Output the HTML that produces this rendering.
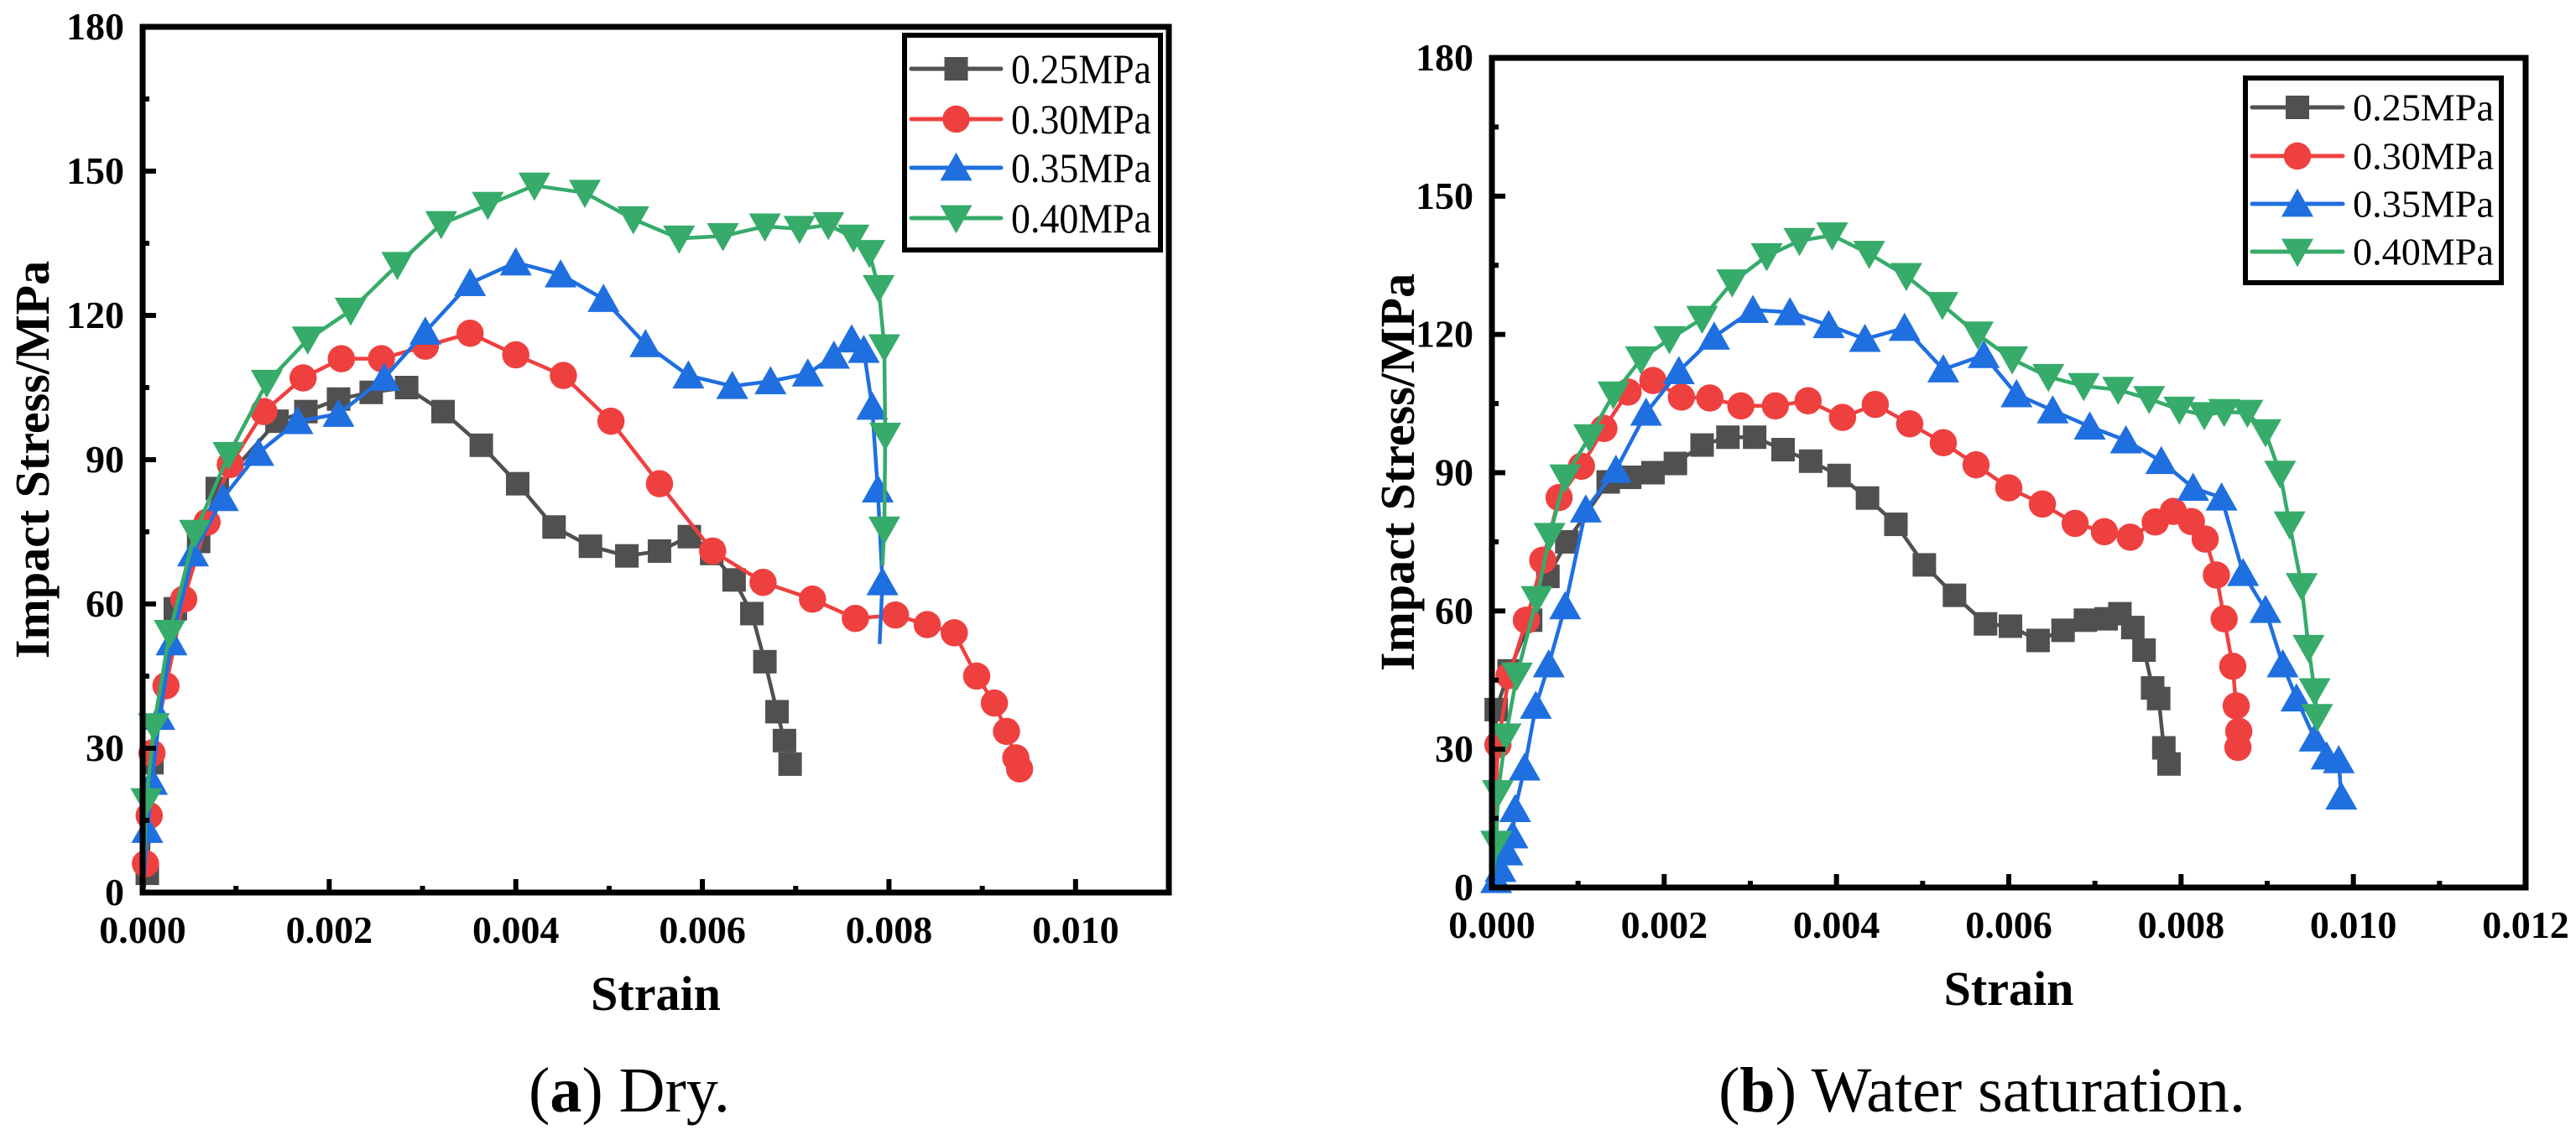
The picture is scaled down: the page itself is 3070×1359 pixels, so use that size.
<!DOCTYPE html>
<html><head><meta charset="utf-8"><style>
html,body{margin:0;padding:0;background:#fff;}
svg{display:block;}
text{font-family:"Liberation Serif","Times New Roman",serif;}
</style></head><body>
<svg id="fig" width="3070" height="1359" viewBox="0 0 3070 1359" xmlns="http://www.w3.org/2000/svg"></svg>
<script>
const seriesNames = ["0.25MPa","0.30MPa","0.35MPa","0.40MPa"];
const yTickLabels = ["0","30","60","90","120","150","180"];
const xTickLabelsA = ["0.000","0.002","0.004","0.006","0.008","0.010"];
const xTickLabelsB = ["0.000","0.002","0.004","0.006","0.008","0.010","0.012"];

const dryS25 = [[0,0],[0.00005,4],[0.0001,27],[0.00035,59],[0.0006,73],[0.0008,84],[0.00144,98],[0.00175,100],[0.0021,102.6],[0.00245,104],[0.00283,105],[0.00322,100],[0.00363,93],[0.00402,85],[0.00441,76],[0.0048,72],[0.00519,70],[0.00554,71],[0.00586,74],[0.0061,70.5],[0.00634,65],[0.00653,58],[0.00667,48],[0.0068,37.6],[0.00688,31.6],[0.00694,26.7]];
const dryS30 = [[0,0],[0.00003,6],[0.00007,16],[0.0001,29],[0.00025,43],[0.00044,61],[0.00069,77],[0.00094,89],[0.0013,100],[0.00172,107],[0.00213,111],[0.00256,111],[0.00303,113.6],[0.00351,116.3],[0.004,111.8],[0.00451,107.5],[0.00502,98],[0.00554,85],[0.00611,71],[0.00665,64.5],[0.00718,61],[0.00764,57],[0.00807,57.7],[0.00841,55.7],[0.0087,54],[0.00894,45],[0.00913,39.4],[0.00926,33.5],[0.00936,28],[0.0094,25.7]];
const dryS35 = [[0,0],[0.00005,13],[0.0001,23],[0.00018,36.5],[0.00031,52],[0.00054,70.5],[0.00086,82],[0.00124,91.4],[0.00166,98],[0.0021,99.5],[0.00259,107],[0.00303,116.6],[0.00351,126.7],[0.004,131],[0.00448,128.5],[0.00494,123.4],[0.00539,114],[0.00585,107.5],[0.00632,105.3],[0.00673,106.3],[0.00713,107.9],[0.00741,111.6],[0.0076,115],[0.00773,112.8],[0.00782,101],[0.00788,83.8],[0.00793,64.5],[0.0079,51.7]];
const dryS40 = [[0,0],[0.00004,19],[0.00012,34.6],[0.00029,54],[0.00056,74.8],[0.00092,91],[0.00133,106],[0.00177,115],[0.00223,121],[0.00273,130.5],[0.0032,139],[0.0037,143],[0.0042,147],[0.00474,145.5],[0.00526,140],[0.00575,136],[0.00622,136.5],[0.00667,138.5],[0.00704,138],[0.00735,138.8],[0.00762,136.2],[0.00779,133],[0.00789,125.7],[0.00795,113.4],[0.00796,95],[0.00795,75.5],[0.00793,68]];

const wetS25 = [[0,0],[0.00005,38.6],[0.0002,47],[0.00045,58],[0.00065,67.5],[0.00087,75],[0.00135,88],[0.0016,89],[0.00187,90],[0.00213,92],[0.00244,96],[0.00274,97.7],[0.00305,97.7],[0.00338,95],[0.0037,92.5],[0.00403,89.4],[0.00436,84.5],[0.00469,78.8],[0.00502,70],[0.00537,63.4],[0.00573,57.2],[0.00602,56.7],[0.00634,53.6],[0.00663,55.8],[0.00689,58],[0.00713,58.3],[0.00729,59.4],[0.00744,56.4],[0.00757,51.5],[0.00767,43.3],[0.00774,41],[0.0078,30.3],[0.00786,26.8]];
const wetS30 = [[0,0],[0.00007,31],[0.0002,46],[0.0004,58],[0.00059,71],[0.00078,84.6],[0.00104,91.4],[0.0013,99.6],[0.00158,107.5],[0.00187,110],[0.0022,106.4],[0.00253,106.2],[0.00289,104.5],[0.00329,104.5],[0.00367,105.6],[0.00407,102],[0.00445,104.8],[0.00485,100.6],[0.00524,96.5],[0.00562,91.7],[0.006,86.7],[0.00639,83.2],[0.00677,79],[0.00711,77.2],[0.00741,76],[0.0077,79.3],[0.00791,81.6],[0.00812,79.4],[0.00828,75.6],[0.00841,67.8],[0.0085,58.3],[0.0086,48],[0.00864,39.4],[0.00867,33.9],[0.00866,30.4]];
const wetS35 = [[0,0],[0.00005,1.6],[0.0001,4],[0.00018,7.6],[0.00024,11.3],[0.00027,17],[0.00038,26],[0.00051,39.4],[0.00066,48.4],[0.00085,61],[0.00109,82],[0.00144,90.6],[0.00179,103],[0.00217,112],[0.00258,119.5],[0.00303,125.3],[0.00346,124.8],[0.00391,122],[0.00433,119],[0.00479,121.4],[0.00524,112.4],[0.00571,115.5],[0.00609,107],[0.00651,103.5],[0.00694,100],[0.00736,97],[0.00777,92.5],[0.00814,86.7],[0.00847,84.6],[0.00872,68.2],[0.00898,60.2],[0.00918,48.4],[0.00934,41],[0.00955,32.3],[0.00969,28.4],[0.00983,27.6],[0.00986,19.7]];
const wetS40 = [[0,0],[0.00005,9.5],[0.00007,20.5],[0.00016,32.8],[0.00029,46],[0.00052,62.6],[0.00067,76.3],[0.00085,89],[0.00113,97.7],[0.00141,107],[0.00173,114.6],[0.00206,119],[0.00244,123.4],[0.00279,131.3],[0.00319,137],[0.00357,140.3],[0.00395,141.5],[0.00438,137.5],[0.00481,132.7],[0.00523,126.4],[0.00564,120],[0.00604,114.6],[0.00646,110.8],[0.00687,108.8],[0.00727,108],[0.00763,106],[0.00798,103.7],[0.00827,102.5],[0.0085,103.2],[0.00877,103],[0.00898,98.8],[0.00915,89.8],[0.00926,78.8],[0.0094,65.4],[0.00948,52],[0.00955,42.6],[0.00958,37]];

const NS = "http://www.w3.org/2000/svg";
const FONT = '"Liberation Serif", "Times New Roman", serif';
const svg = document.getElementById('fig');
const colors = ["#505050","#ef4040","#1f6fe0","#36ab6a"];
const shapes = ["square","circle","up","down"];

function mk(tag, attrs, parent){
  const e = document.createElementNS(NS, tag);
  for (const k in attrs) e.setAttribute(k, attrs[k]);
  if (tag==='text') e.setAttribute('font-family', FONT);
  (parent||svg).appendChild(e);
  return e;
}
function marker(g, shape, cx, cy, s, color){
  let e;
  if (shape==="square") e = mk('rect',{x:cx-s/2,y:cy-s/2,width:s,height:s,fill:color},g);
  else if (shape==="circle") e = mk('circle',{cx:cx,cy:cy,r:s*0.58,fill:color},g);
  else if (shape==="up") e = mk('polygon',{points:`${cx},${cy-s*0.65} ${cx+s*0.68},${cy+s*0.55} ${cx-s*0.68},${cy+s*0.55}`,fill:color},g);
  else e = mk('polygon',{points:`${cx},${cy+s*0.65} ${cx+s*0.68},${cy-s*0.55} ${cx-s*0.68},${cy-s*0.55}`,fill:color},g);
  
  
  return e;
}

function chart(cfg){
  const {id,x0,x1,xMax,y0,y1,yMax,xLabels,xStep,data,leg,fs,cap} = cfg;
  const g = mk('g',{});
  
  
  const X = v => x0 + v/xMax*(x1-x0);
  const Y = v => y0 - v/yMax*(y0-y1);
  data.forEach((pts,i)=>{
    const sg = mk('g',{},g);
    
    
    const p = mk('polyline',{points:pts.map(d=>X(d[0]).toFixed(1)+','+Y(d[1]).toFixed(1)).join(' '),fill:'none',stroke:colors[i],'stroke-width':4.5,'stroke-linejoin':'round'},sg);
    
    
    const end = (cfg.noEnd && cfg.noEnd[i]) ? pts.length-1 : pts.length;
    pts.slice(1,end).forEach(d=>marker(sg,shapes[i],X(d[0]),Y(d[1]),28,colors[i]));
  });
  const fr = mk('rect',{x:x0,y:y1,width:x1-x0,height:y0-y1,fill:'none',stroke:'#000','stroke-width':7},g);
  
  
  for (let k=0;k<=12;k++){
    const v=k*15, yy=Y(v), len = k%2===0?16:8;
    const t = mk('line',{x1:x0,x2:x0+len,y1:yy,y2:yy,stroke:'#000','stroke-width':6},g);
    
    
  }
  yTickLabels.forEach((lab,k)=>{
    const t = mk('text',{x:x0-22,y:Y(k*30)+15,'text-anchor':'end','font-size':46,'font-weight':'bold'},g);
    t.textContent = lab;
    
    
  });
  const nMinor = Math.round(xMax/(xStep/2));
  for (let k=0;k<=nMinor;k++){
    const v=k*xStep/2, xx=X(v), len = k%2===0?16:8;
    const t = mk('line',{x1:xx,x2:xx,y1:y0,y2:y0-len,stroke:'#000','stroke-width':6},g);
    
    
  }
  xLabels.forEach((lab,k)=>{
    const t = mk('text',{x:X(k*xStep),y:y0+60,'text-anchor':'middle','font-size':46,'font-weight':'bold'},g);
    t.textContent = lab;
    
    
  });
  const xt = mk('text',{x:(x0+x1)/2,y:y0+140,'text-anchor':'middle','font-size':58,'font-weight':'bold'},g);
  xt.textContent='Strain';
  
  
  const yt = mk('text',{x:0,y:0,'text-anchor':'middle','font-size':58,'font-weight':'bold',transform:`translate(${cfg.ylx},${cfg.yly}) rotate(-90)`},g);
  yt.textContent='Impact Stress/MPa';
  
  
  const lg = mk('g',{},g);
  
  
  const lb = mk('rect',{x:leg.x,y:leg.y,width:leg.w,height:leg.h,fill:'#fff',stroke:'#000','stroke-width':6},lg);
  
  
  seriesNames.forEach((nm,i)=>{
    const ey = leg.rows[i];
    const eg = mk('g',{},lg);
    
    
    const ln = mk('line',{x1:leg.lx0,x2:leg.lx1,y1:ey,y2:ey,stroke:colors[i],'stroke-width':5,'stroke-linecap':'round'},eg);
    
    
    marker(eg,shapes[i],(leg.lx0+leg.lx1)/2,ey,28,colors[i]);
    const tx = mk('text',{x:leg.tx,y:ey+fs*0.34,'font-size':fs,textLength:leg.tl,lengthAdjust:'spacingAndGlyphs'},eg);
    tx.textContent = nm;
    
    
  });
  const c = mk('text',{x:cap.x,y:cap.y,'text-anchor':'middle','font-size':76},g);
  c.innerHTML = cap.html;
  
  
}

chart({id:'chart-dry',x0:170,x1:1393,xMax:0.011,y0:1064,y1:32,yMax:180,xLabels:xTickLabelsA,xStep:0.002,
  data:[dryS25,dryS30,dryS35,dryS40],noEnd:[false,false,true,true],ylx:58,yly:548,fs:50,
  leg:{x:1078,y:42,w:305,h:256,rows:[82,142,200,260],lx0:1086,lx1:1193,tx:1205,tl:167},
  cap:{x:750,y:1325,html:'(<tspan font-weight="bold">a</tspan>) Dry.'}});
chart({id:'chart-water',x0:1778,x1:3010,xMax:0.012,y0:1058,y1:69,yMax:180,xLabels:xTickLabelsB,xStep:0.002,
  data:[wetS25,wetS30,wetS35,wetS40],ylx:1685,yly:563,fs:46,
  leg:{x:2676,y:93,w:305,h:244,rows:[128,186,243,300],lx0:2684,lx1:2792,tx:2804,tl:168},
  cap:{x:2362,y:1325,html:'(<tspan font-weight="bold">b</tspan>) Water saturation.'}});
</script>
</body></html>
